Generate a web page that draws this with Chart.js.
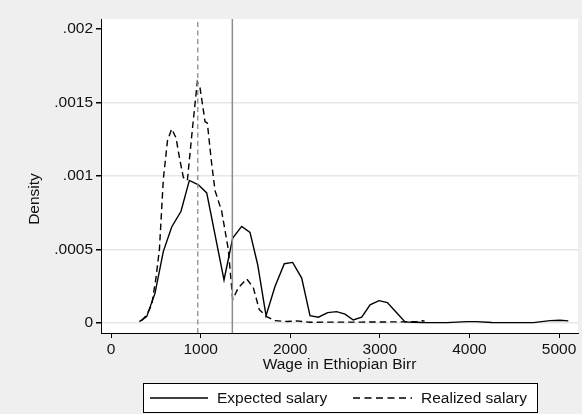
<!DOCTYPE html>
<html>
<head>
<meta charset="utf-8">
<script src="https://cdn.jsdelivr.net/npm/chart.js@4"></script>
<style>
  html, body { margin: 0; padding: 0; background: #efefef; }
  #wrap { width: 582px; height: 414px; }
</style>
</head>
<body>
<div id="wrap"><canvas id="densityChart" width="582" height="414"></canvas></div>
<script>
// wage grid (Ethiopian Birr) and kernel density values
const expectedWage = [316, 398, 491, 584, 677, 781, 874, 975, 1068, 1161, 1261, 1358, 1458, 1551, 1637, 1730, 1830, 1934, 2027, 2128, 2221, 2314, 2418, 2518, 2612, 2704, 2798, 2891, 2991, 3084, 3188, 3281, 3374, 3485, 3747, 3970, 4080, 4250, 4713, 4900, 5011, 5104];
const expectedDensity = [0.000009, 0.000043, 0.000203, 0.000487, 0.000653, 0.00076, 0.00097, 0.00094, 0.000885, 0.0006, 0.000293, 0.000578, 0.000657, 0.000616, 0.000396, 0.00005, 0.000248, 0.000403, 0.000412, 0.000305, 0.00005, 0.000039, 0.00007, 0.000077, 0.00006, 0.00002, 0.000039, 0.000123, 0.000152, 0.000139, 0.00007, 0.000007, 0.000005, 0.000003, 0.000002, 0.000009, 0.000009, 0.000003, 0.000002, 0.000016, 0.000018, 0.000014];

const realizedWage = [340, 398, 454, 500, 540, 584, 630, 677, 725, 765, 807, 852, 905, 963, 993, 1030, 1049, 1075, 1120, 1161, 1235, 1309, 1358, 1421, 1514, 1588, 1655, 1738, 1830, 1961, 2072, 2220, 2500, 2800, 3100, 3300, 3420, 3480, 3500];
const realizedDensity = [0.000014, 0.000055, 0.000123, 0.0003, 0.0005, 0.00098, 0.00124, 0.00132, 0.00126, 0.00112, 0.00099, 0.00097, 0.0013, 0.00164, 0.0016, 0.00145, 0.00137, 0.00136, 0.0011, 0.0009, 0.00076, 0.0005, 0.00016, 0.00024, 0.0003, 0.00024, 0.00009, 0.000043, 0.000016, 0.00001, 0.000014, 0.000005, 0.000006, 0.000006, 0.000007, 0.000008, 0.00001, 0.000016, 0.00001];

const seriesNames = ['Expected salary', 'Realized salary'];
const meanLines = [968, 1354]; // realized mean (dashed), expected mean (solid)

const xTicks = [0, 1000, 2000, 3000, 4000, 5000];
const xTickLabels = ['0', '1000', '2000', '3000', '4000', '5000'];
const yTicks = [0, 0.0005, 0.001, 0.0015, 0.002];
const yTickLabels = ['0', '.0005', '.001', '.0015', '.002'];

const FONT = '"Liberation Sans", Arial, Helvetica, sans-serif';
const X_MIN = -112, X_MAX = 5212;
const Y_MIN = -0.0000683, Y_MAX = 0.002068;

const toPoints = (xs, ys) => xs.map((x, i) => ({ x: x, y: ys[i] }));
const labelFor = (ticks, labels) => v => {
    const i = ticks.findIndex(t => Math.abs(t - v) < 1e-9);
    return i >= 0 ? labels[i] : '';
};

// grey page + white plot region
const backgroundPlugin = {
    id: 'background',
    beforeDraw(chart) {
        const { ctx, chartArea: a } = chart;
        ctx.save();
        ctx.fillStyle = '#efefef';
        ctx.fillRect(0, 0, chart.width, chart.height);
        ctx.fillStyle = '#ffffff';
        ctx.fillRect(a.left, a.top, a.right - a.left, a.bottom - a.top);
        ctx.restore();
    }
};

// axis titles and boxed legend, Stata style
const decorPlugin = {
    id: 'decor',
    afterDraw(chart) {
        const { ctx, chartArea: a } = chart;
        ctx.save();
        ctx.fillStyle = '#111';
        ctx.font = '15.5px ' + FONT;
        ctx.textAlign = 'center';
        ctx.textBaseline = 'middle';
        ctx.fillText('Wage in Ethiopian Birr', (a.left + a.right) / 2, 365);

        ctx.save();
        ctx.translate(35, 199);
        ctx.rotate(-Math.PI / 2);
        ctx.fillText('Density', 0, 0);
        ctx.restore();

        // legend box
        ctx.fillStyle = '#ffffff';
        ctx.fillRect(143.5, 383.5, 394, 29);
        ctx.strokeStyle = '#000';
        ctx.lineWidth = 1;
        ctx.strokeRect(143.5, 383.5, 394, 29);

        const items = [
            { x0: 150, x1: 208, tx: 217, dash: [], label: seriesNames[0] },
            { x0: 353, x1: 412, tx: 421, dash: [7, 4.5], label: seriesNames[1] }
        ];
        items.forEach(it => {
            ctx.beginPath();
            ctx.setLineDash(it.dash);
            ctx.lineWidth = 1.3;
            ctx.strokeStyle = '#000';
            ctx.moveTo(it.x0, 398);
            ctx.lineTo(it.x1, 398);
            ctx.stroke();
            ctx.setLineDash([]);
            ctx.fillStyle = '#111';
            ctx.textAlign = 'left';
            ctx.fillText(it.label, it.tx, 398.5);
        });
        ctx.restore();
    }
};

const ctx = document.getElementById('densityChart').getContext('2d');

new Chart(ctx, {
    type: 'scatter',
    data: {
        datasets: [
            {
                label: 'realized mean',
                data: [{ x: meanLines[0], y: Y_MIN }, { x: meanLines[0], y: Y_MAX }],
                showLine: true,
                borderColor: '#8c8c8c',
                borderWidth: 1.3,
                borderDash: [5, 3.5],
                pointRadius: 0
            },
            {
                label: 'expected mean',
                data: [{ x: meanLines[1], y: Y_MIN }, { x: meanLines[1], y: Y_MAX }],
                showLine: true,
                borderColor: '#8c8c8c',
                borderWidth: 1.5,
                pointRadius: 0
            },
            {
                label: seriesNames[0],
                data: toPoints(expectedWage, expectedDensity),
                showLine: true,
                borderColor: '#000',
                borderWidth: 1.4,
                pointRadius: 0,
                tension: 0
            },
            {
                label: seriesNames[1],
                data: toPoints(realizedWage, realizedDensity),
                showLine: true,
                borderColor: '#000',
                borderWidth: 1.4,
                borderDash: [6.5, 4],
                pointRadius: 0,
                tension: 0
            }
        ]
    },
    options: {
        responsive: false,
        animation: false,
        devicePixelRatio: 1,
        layout: { padding: { top: 19, right: 4, left: 0, bottom: 0 } },
        plugins: {
            legend: { display: false },
            tooltip: { enabled: false }
        },
        scales: {
            x: {
                type: 'linear',
                min: X_MIN,
                max: X_MAX,
                afterBuildTicks: scale => { scale.ticks = xTicks.map(v => ({ value: v })); },
                afterFit: scale => { scale.height = 81; },
                border: { color: '#000', width: 1 },
                grid: { drawOnChartArea: false, tickLength: 5, tickColor: '#000' },
                ticks: {
                    color: '#111',
                    font: { family: FONT, size: 15.5 },
                    padding: 2,
                    maxRotation: 0,
                    callback: labelFor(xTicks, xTickLabels)
                }
            },
            y: {
                type: 'linear',
                min: Y_MIN,
                max: Y_MAX,
                afterBuildTicks: scale => { scale.ticks = yTicks.map(v => ({ value: v })); },
                afterFit: scale => { scale.width = 101; },
                border: { color: '#000', width: 1 },
                grid: {
                    color: c => (c.tick && c.tick.value === 0.002) ? 'rgba(0,0,0,0)' : '#e6e6e6',
                    lineWidth: 1.5,
                    tickLength: 5,
                    tickColor: '#000'
                },
                ticks: {
                    color: '#111',
                    font: { family: FONT, size: 15.5 },
                    padding: 3,
                    callback: labelFor(yTicks, yTickLabels)
                }
            }
        }
    },
    plugins: [backgroundPlugin, decorPlugin]
});
</script>
</body>
</html>
